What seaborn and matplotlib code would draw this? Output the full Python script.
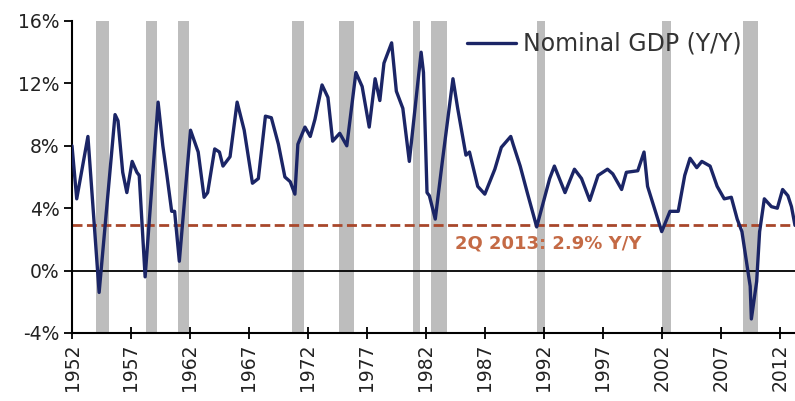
import matplotlib
matplotlib.use("Agg")
import matplotlib.pyplot as plt
import seaborn as sns
import pandas as pd

# ---- data ----
years = [1952.0, 1952.4, 1953.35, 1954.3, 1955.65, 1955.9, 1956.3, 1956.65, 1957.1, 1957.5,
         1957.7, 1958.2, 1959.3, 1959.7, 1960.05, 1960.45, 1960.7, 1961.1, 1962.05, 1962.7,
         1963.2, 1963.5, 1964.1, 1964.5, 1964.8, 1965.4, 1966.0, 1966.6, 1967.3, 1967.8,
         1968.4, 1968.9, 1969.5, 1970.05, 1970.5, 1970.9, 1971.15, 1971.75, 1972.2, 1972.6,
         1973.2, 1973.7, 1974.1, 1974.7, 1975.3, 1976.07, 1976.6, 1977.2, 1977.7, 1978.1,
         1978.45, 1979.1, 1979.5, 1980.05, 1980.6, 1981.6, 1981.8, 1982.1, 1982.3, 1982.8,
         1983.4, 1984.3, 1984.7, 1985.4, 1985.7, 1986.4, 1987.0, 1987.85, 1988.4, 1989.2,
         1989.4, 1990.0, 1990.6, 1991.4, 1992.5, 1992.9, 1993.8, 1994.6, 1995.2, 1995.9,
         1996.6, 1997.4, 1997.85, 1998.6, 1999.0, 1999.97, 2000.5, 2000.8, 2002.0, 2002.7,
         2003.4, 2003.95, 2004.4, 2004.97, 2005.4, 2006.1, 2006.7, 2007.3, 2007.9, 2008.4,
         2008.8, 2009.5, 2009.6, 2010.05, 2010.3, 2010.7, 2011.3, 2011.8, 2012.25, 2012.7,
         2013.0, 2013.3]
gdp_yoy = [8.0, 4.6, 8.6, -1.4, 10.0, 9.6, 6.3, 5.0, 7.0, 6.3,
           6.1, -0.4, 10.8, 8.0, 6.1, 3.8, 3.8, 0.6, 9.0, 7.6,
           4.7, 5.0, 7.8, 7.6, 6.7, 7.3, 10.8, 9.0, 5.6, 5.9,
           9.9, 9.8, 8.1, 6.0, 5.7, 4.9, 8.1, 9.2, 8.6, 9.7,
           11.9, 11.1, 8.3, 8.8, 8.0, 12.7, 11.8, 9.2, 12.3, 10.9,
           13.3, 14.6, 11.5, 10.4, 7.0, 14.0, 12.7, 5.0, 4.8, 3.3,
           7.0, 12.3, 10.4, 7.4, 7.6, 5.4, 4.9, 6.5, 7.9, 8.6,
           8.1, 6.7, 5.0, 2.8, 5.9, 6.7, 5.0, 6.5, 5.9, 4.5,
           6.1, 6.5, 6.2, 5.2, 6.3, 6.4, 7.6, 5.4, 2.5, 3.8,
           3.8, 6.1, 7.2, 6.6, 7.0, 6.7, 5.4, 4.6, 4.7, 3.3,
           2.5, -1.0, -3.1, -0.7, 2.5, 4.6, 4.1, 4.0, 5.2, 4.8,
           4.1, 2.9]

recession_start = [1954.03, 1958.27, 1960.98, 1970.64, 1974.63, 1980.9, 1982.42, 1991.4, 2002.0, 2008.86]
recession_end   = [1955.14, 1959.2, 1961.92, 1971.66, 1975.9, 1981.5, 1983.78, 1992.08, 2002.75, 2010.2]

latest_value = 2.9
latest_label = "2Q 2013: 2.9% Y/Y"
series_name = "Nominal GDP (Y/Y)"

x_ticks = list(range(1952, 2013, 5))
y_ticks = [-4, 0, 4, 8, 12, 16]
y_tick_labels = ["-4%", "0%", "4%", "8%", "12%", "16%"]

# ---- plot ----
sns.set_theme(style="white")
plt.rcParams['font.family'] = ['DejaVu Sans']

fig = plt.figure(figsize=(7.95, 4.01), dpi=100)
ax = fig.add_axes([72/795, 1-333/401, 1-72/795, (333-21)/401])

for s, e in zip(recession_start, recession_end):
    ax.axvspan(s, e, color="#BDBDBD", lw=0, zorder=0)

ax.axhline(0, color="black", lw=1.3, zorder=1)
ax.axhline(latest_value, color="#A8472B", lw=2.0, ls=(0, (3.6, 1.6)), zorder=2)

df = pd.DataFrame({"year": years, "value": gdp_yoy})
sns.lineplot(data=df, x="year", y="value", ax=ax, color="#1B2566", lw=2.4,
             label=series_name, zorder=3)

ax.text(1992.4, 1.75, latest_label, color="#C46A45", fontsize=13, fontweight="bold",
        ha="center", va="center", zorder=4)

ax.set_xlim(1952, 2013.3)
ax.set_ylim(-4, 16)
ax.set_xticks(x_ticks)
ax.set_xticklabels([str(t) for t in x_ticks], rotation=90, fontsize=13.5, color="#222222")
ax.set_yticks(y_ticks)
ax.set_yticklabels(y_tick_labels, fontsize=13.5, color="#222222")
ax.set_xlabel("")
ax.set_ylabel("")

for side in ["top", "right"]:
    ax.spines[side].set_visible(False)
for side in ["left", "bottom"]:
    ax.spines[side].set_color("black")
    ax.spines[side].set_linewidth(1.5)
ax.tick_params(axis="y", direction="out", length=6, width=1.3, color="black", pad=3, left=True)
ax.tick_params(axis="x", direction="inout", length=9, width=1.3, color="black", pad=3, bottom=True)

leg = ax.legend(loc="upper left", bbox_to_anchor=(0.546, 0.965), frameon=False,
                fontsize=17, handlelength=2.1, handletextpad=0.3, borderpad=0, borderaxespad=0)
for t in leg.get_texts():
    t.set_color("#333333")

fig.savefig("out.png", dpi=100)
